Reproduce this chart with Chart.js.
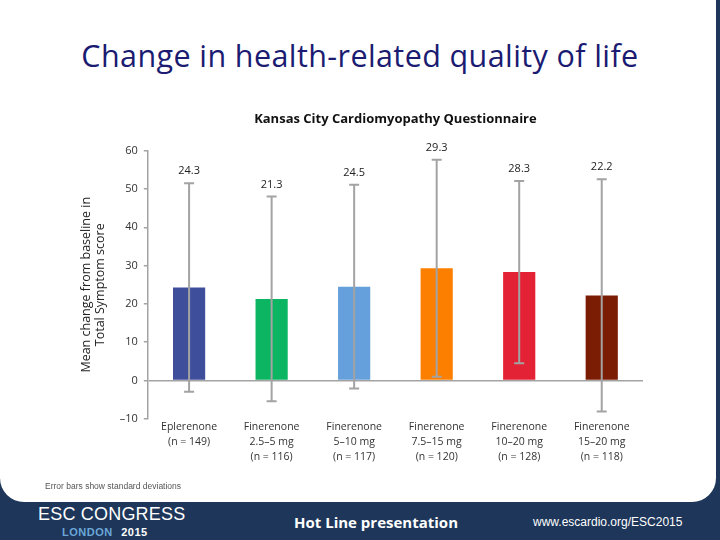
<!DOCTYPE html>
<html>
<head>
<meta charset="utf-8">
<script src="https://cdn.jsdelivr.net/npm/chart.js@4"></script>
<style>
    html, body { margin: 0; padding: 0; }
    body { width: 720px; height: 540px; position: relative; overflow: hidden; background: #1d3659; font-family: "Open Sans", sans-serif; }
    .panel { position: absolute; left: 0; top: 0; width: 716px; height: 502px; background: #fff; border-bottom-left-radius: 24px; border-bottom-right-radius: 24px; }
    .slide-title { position: absolute; left: 0; width: 720px; top: 34px; text-align: center; font-size: 30.5px; color: #1b1b72; letter-spacing: 0.4px; }
    .note { position: absolute; left: 45px; top: 481px; font-size: 8.5px; color: #555; font-family: "Liberation Sans", sans-serif; }
    #chartWrap { position: absolute; left: 0; top: 0; width: 720px; height: 500px; }
    .esc { position: absolute; left: 38px; top: 504px; color: #fff; font-size: 18px; font-family: "Liberation Sans", sans-serif; letter-spacing: 0.2px; }
    .london { position: absolute; left: 62px; top: 526px; color: #6aa7d8; font-size: 11px; font-family: "Liberation Sans", sans-serif; font-weight: bold; letter-spacing: 0.5px; }
    .london b { color: #fff; margin-left: 5px; }
    .hotline { position: absolute; left: 294px; top: 512px; color: #fff; font-size: 15px; font-weight: bold; }
    .url { position: absolute; left: 533px; top: 515px; color: #fff; font-size: 12px; font-family: "Liberation Sans", sans-serif; }
</style>
</head>
<body>
<div class="panel"></div>
<div class="slide-title">Change in health-related quality of life</div>
<div id="chartWrap"><canvas id="kccqChart" width="720" height="500"></canvas></div>
<div class="note">Error bars show standard deviations</div>
<div class="esc">ESC CONGRESS</div>
<div class="london">LONDON <b>2015</b></div>
<div class="hotline">Hot Line presentation</div>
<div class="url">www.escardio.org/ESC2015</div>
<script>
// data
const groups = [
    ['Eplerenone', '(n = 149)'],
    ['Finerenone', '2.5–5 mg', '(n = 116)'],
    ['Finerenone', '5–10 mg', '(n = 117)'],
    ['Finerenone', '7.5–15 mg', '(n = 120)'],
    ['Finerenone', '10–20 mg', '(n = 128)'],
    ['Finerenone', '15–20 mg', '(n = 118)']
];
const meanChange = [24.3, 21.3, 24.5, 29.3, 28.3, 22.2];
const stdDev = [27.2, 26.7, 26.6, 28.3, 23.8, 30.3];
const yTicks = [-10, 0, 10, 20, 30, 40, 50, 60];
const barColors = ['#3f4e9b', '#0bb562', '#659fdc', '#fc7f00', '#e42236', '#7b1d04'];

const errorBarPlugin = {
    id: 'errorBars',
    afterDatasetsDraw(chart) {
        const ctx = chart.ctx;
        const meta = chart.getDatasetMeta(0);
        const y = chart.scales.y;
        ctx.save();
        meta.data.forEach((bar, i) => {
            const top = y.getPixelForValue(meanChange[i] + stdDev[i]);
            const bottom = y.getPixelForValue(meanChange[i] - stdDev[i]);
            ctx.strokeStyle = '#a3a3a3';
            ctx.lineWidth = 2;
            ctx.beginPath();
            ctx.moveTo(bar.x, top);
            ctx.lineTo(bar.x, bottom);
            ctx.moveTo(bar.x - 5, top);
            ctx.lineTo(bar.x + 5, top);
            ctx.moveTo(bar.x - 5, bottom);
            ctx.lineTo(bar.x + 5, bottom);
            ctx.stroke();
            ctx.fillStyle = '#222';
            ctx.font = '11px "Open Sans", sans-serif';
            ctx.textAlign = 'center';
            ctx.textBaseline = 'middle';
            ctx.fillText(meanChange[i].toFixed(1), bar.x, top - 12);
        });
        ctx.restore();
    }
};

new Chart(document.getElementById('kccqChart').getContext('2d'), {
    type: 'bar',
    data: {
        labels: groups,
        datasets: [{
            data: meanChange,
            backgroundColor: barColors,
            barPercentage: 0.39,
            categoryPercentage: 1.0
        }]
    },
    options: {
        responsive: false,
        animation: false,
        layout: { padding: { left: 79, right: 77, top: 111, bottom: 35 } },
        plugins: {
            legend: { display: false },
            tooltip: { enabled: false },
            title: {
                display: true,
                fullSize: false,
                text: 'Kansas City Cardiomyopathy Questionnaire',
                color: '#111',
                font: { family: '"Open Sans", sans-serif', size: 13, weight: 'bold' },
                padding: { top: 0, bottom: 24 }
            }
        },
        scales: {
            x: {
                grid: { display: false, drawTicks: false },
                border: { display: false },
                ticks: {
                    color: '#333',
                    font: { family: '"Open Sans", sans-serif', size: 10.5, lineHeight: 1.4 },
                    padding: 1,
                    maxRotation: 0,
                    autoSkip: false
                }
            },
            y: {
                min: -10,
                max: 60,
                afterBuildTicks: (axis) => { axis.ticks = yTicks.map(v => ({ value: v })); },
                ticks: {
                    color: '#333',
                    font: { family: '"Open Sans", sans-serif', size: 11 },
                    padding: 6,
                    callback: (v) => v < 0 ? '–' + Math.abs(v) : v
                },
                grid: {
                    drawOnChartArea: true,
                    color: (c) => c.tick && c.tick.value === 0 ? '#a3a3a3' : 'rgba(0,0,0,0)',
                    tickColor: '#a3a3a3',
                    tickLength: 4,
                    lineWidth: 1.5
                },
                border: { display: true, color: '#a3a3a3', width: 1.5 },
                title: {
                    display: true,
                    text: ['Mean change from baseline in', 'Total Symptom score'],
                    color: '#222',
                    font: { family: '"Open Sans", sans-serif', size: 12.5, lineHeight: 1.15 },
                    padding: { top: 0, bottom: 6 }
                }
            }
        }
    },
    plugins: [errorBarPlugin]
});
</script>
</body>
</html>
